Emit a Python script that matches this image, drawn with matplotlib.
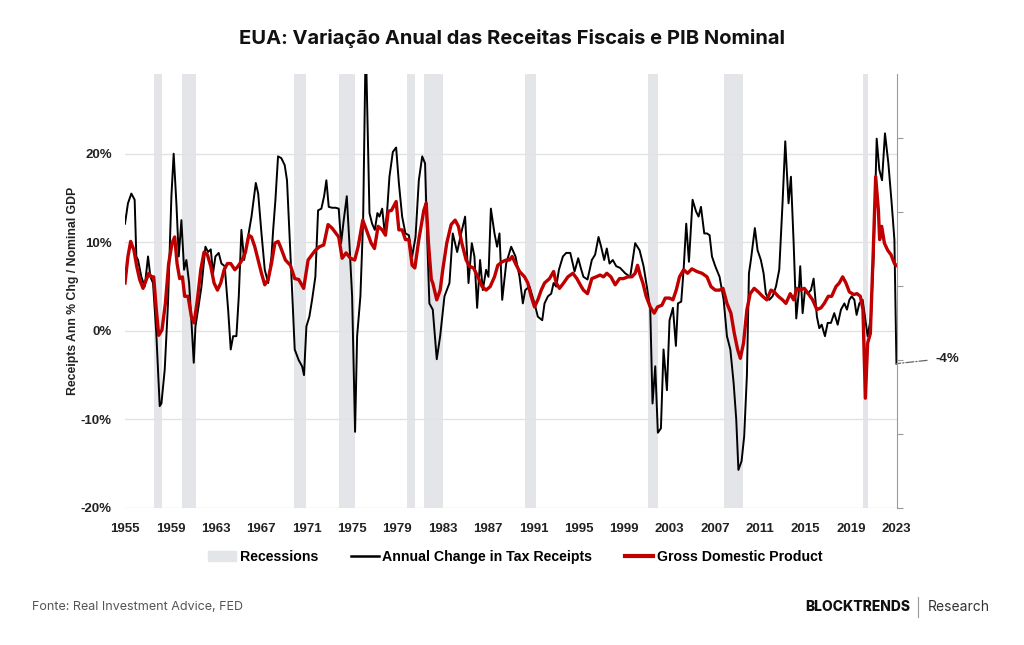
#!/usr/bin/env python3
"""
EUA: variação anual das receitas fiscais vs PIB nominal
"""

import numpy as np
import matplotlib.pyplot as plt
from matplotlib.lines import Line2D
from matplotlib.patches import Patch

# Receitas fiscais - variação anual (%), pares (ano, valor)
receipts = [
    (1955.00, 12.1), (1955.26, 14.4), (1955.56, 15.5), (1955.85, 14.8), (1956.00, 8.4), (1956.15, 8.0),
    (1956.44, 6.1), (1956.74, 5.0), (1957.03, 8.4), (1957.24, 6.1), (1957.47, 5.4), (1957.76, -0.3),
    (1958.06, -8.5), (1958.21, -8.2), (1958.50, -4.4), (1958.79, 3.1), (1959.09, 15.2), (1959.29, 20.0),
    (1959.53, 14.4), (1959.74, 8.4), (1959.97, 12.5), (1960.21, 6.9), (1960.41, 8.0), (1960.65, 5.4),
    (1960.85, 1.2), (1961.06, -3.6), (1961.21, 0.5), (1961.44, 2.4), (1961.74, 5.0), (1962.09, 9.5),
    (1962.32, 8.9), (1962.56, 9.2), (1962.76, 6.5), (1962.97, 8.4), (1963.26, 8.8), (1963.50, 7.6),
    (1963.79, 7.3), (1964.09, 2.4), (1964.32, -2.1), (1964.53, -0.6), (1964.82, -0.6), (1965.03, 3.9),
    (1965.26, 11.4), (1965.50, 8.0), (1965.85, 10.6), (1966.15, 12.9), (1966.53, 16.7), (1966.74, 15.5),
    (1967.03, 11.0), (1967.32, 6.9), (1967.62, 5.4), (1967.91, 8.4), (1968.06, 11.4), (1968.26, 14.8),
    (1968.49, 19.7), (1968.78, 19.5), (1969.08, 18.7), (1969.28, 17.0), (1969.58, 8.8), (1969.78, 3.1),
    (1969.96, -2.1), (1970.31, -3.3), (1970.61, -4.0), (1970.78, -5.0), (1970.99, 0.5), (1971.25, 1.6),
    (1971.49, 3.5), (1971.78, 6.1), (1972.02, 13.6), (1972.31, 13.8), (1972.55, 15.2), (1972.75, 17.0),
    (1972.96, 14.0), (1973.25, 13.9), (1973.55, 13.9), (1973.84, 13.8), (1974.05, 9.9), (1974.28, 12.5),
    (1974.55, 15.2), (1974.78, 9.9), (1975.02, 3.9), (1975.28, -11.4), (1975.46, -0.6), (1975.75, 3.9),
    (1975.99, 12.5), (1976.22, 33.0), (1976.55, 13.3), (1976.78, 12.1), (1977.02, 11.4), (1977.25, 13.3),
    (1977.43, 12.9), (1977.67, 13.8), (1977.90, 11.0), (1978.11, 13.6), (1978.31, 17.4), (1978.61, 20.2),
    (1978.90, 20.7), (1979.14, 16.7), (1979.43, 12.9), (1979.72, 11.0), (1980.02, 10.8), (1980.31, 8.4),
    (1980.61, 10.6), (1980.90, 17.0), (1981.20, 19.7), (1981.45, 18.9), (1981.65, 10.0), (1981.83, 3.1),
    (1982.13, 2.4), (1982.48, -3.2), (1982.78, -0.6), (1983.16, 3.9), (1983.60, 5.4), (1983.89, 11.0),
    (1984.28, 8.9), (1984.63, 11.0), (1984.98, 12.9), (1985.28, 5.4), (1985.57, 9.9), (1985.80, 8.4),
    (1986.04, 2.6), (1986.30, 8.0), (1986.54, 4.6), (1986.83, 6.9), (1987.04, 6.1), (1987.25, 13.8),
    (1987.57, 11.0), (1987.80, 9.5), (1988.01, 11.0), (1988.25, 3.5), (1988.60, 7.6), (1989.04, 9.5),
    (1989.42, 8.4), (1989.78, 6.1), (1990.07, 3.1), (1990.28, 4.6), (1990.66, 5.0), (1991.10, 3.1),
    (1991.39, 1.6), (1991.78, 1.2), (1991.98, 3.1), (1992.28, 3.9), (1992.57, 4.2), (1992.78, 5.4),
    (1993.01, 5.0), (1993.25, 6.9), (1993.60, 8.4), (1993.89, 8.8), (1994.25, 8.8), (1994.63, 6.7),
    (1994.95, 8.2), (1995.20, 7.0), (1995.41, 6.1), (1995.77, 5.8), (1996.15, 8.0), (1996.44, 8.6),
    (1996.74, 10.6), (1996.97, 9.5), (1997.24, 8.0), (1997.47, 9.3), (1997.71, 7.6), (1998.00, 8.0),
    (1998.30, 7.3), (1998.65, 7.1), (1999.09, 6.5), (1999.53, 6.1), (1999.97, 9.9), (2000.36, 9.1),
    (2000.71, 7.3), (2001.00, 5.0), (2001.30, 2.4), (2001.50, -8.2), (2001.74, -4.0), (2001.97, -11.5),
    (2002.24, -11.0), (2002.47, -2.1), (2002.77, -6.7), (2003.00, 1.2), (2003.30, 2.6), (2003.56, -1.7),
    (2003.74, 3.1), (2004.03, 3.3), (2004.24, 6.9), (2004.47, 12.1), (2004.71, 7.8), (2005.03, 14.8),
    (2005.33, 13.5), (2005.56, 12.9), (2005.77, 14.0), (2006.06, 11.0), (2006.30, 11.0), (2006.53, 10.8),
    (2006.74, 8.4), (2007.03, 7.3), (2007.41, 6.1), (2007.77, 3.5), (2008.06, -0.6), (2008.36, -2.1),
    (2008.65, -5.9), (2008.88, -10.0), (2009.07, -15.7), (2009.35, -14.7), (2009.58, -11.9), (2009.82, -5.0),
    (2010.00, 6.5), (2010.17, 8.0), (2010.52, 11.6), (2010.76, 9.1), (2011.05, 8.0), (2011.29, 6.5),
    (2011.49, 4.2), (2011.79, 3.5), (2012.08, 3.9), (2012.38, 5.0), (2012.67, 6.9), (2012.96, 14.4),
    (2013.20, 21.4), (2013.49, 14.4), (2013.70, 17.4), (2013.94, 9.9), (2014.17, 1.4), (2014.38, 4.2),
    (2014.52, 7.3), (2014.73, 2.0), (2014.94, 4.6), (2015.17, 4.2), (2015.46, 4.6), (2015.70, 5.9),
    (2015.99, 1.6), (2016.20, 0.3), (2016.41, 0.7), (2016.70, -0.6), (2016.94, 0.9), (2017.23, 0.9),
    (2017.52, 2.0), (2017.82, 0.7), (2018.11, 2.4), (2018.41, 3.1), (2018.64, 2.4), (2018.85, 3.5),
    (2019.05, 3.9), (2019.29, 3.5), (2019.49, 1.8), (2019.73, 3.1), (2020.02, 3.5), (2020.46, -0.6),
    (2020.76, 1.6), (2020.99, 8.4), (2021.26, 21.7), (2021.49, 18.2), (2021.73, 17.0), (2021.99, 22.3),
    (2022.29, 18.9), (2022.58, 14.4), (2022.82, 10.3), (2023.00, -3.7),
]

# PIB nominal - variação anual (%)
gdp = [
    (1955.00, 5.4), (1955.26, 8.4), (1955.50, 10.1), (1955.79, 9.1), (1956.03, 7.3), (1956.29, 5.8),
    (1956.59, 4.8), (1956.88, 5.8), (1957.09, 6.5), (1957.32, 6.1), (1957.53, 6.1), (1957.76, 2.4),
    (1957.97, -0.5), (1958.26, 0.1), (1958.56, 3.1), (1958.85, 7.6), (1959.15, 9.9), (1959.38, 10.6),
    (1959.59, 7.6), (1959.82, 5.9), (1960.06, 6.1), (1960.26, 3.9), (1960.56, 3.9), (1960.85, 1.6),
    (1961.09, 0.9), (1961.38, 3.5), (1961.68, 6.9), (1961.97, 8.9), (1962.26, 8.6), (1962.56, 7.3),
    (1962.85, 5.4), (1963.15, 4.6), (1963.44, 5.4), (1963.74, 6.9), (1964.03, 7.6), (1964.32, 7.6),
    (1964.68, 6.9), (1964.97, 7.3), (1965.32, 8.0), (1965.62, 8.9), (1965.91, 10.8), (1966.15, 10.6),
    (1966.44, 9.5), (1966.74, 8.0), (1967.03, 6.5), (1967.32, 5.2), (1967.62, 5.8), (1967.91, 7.6),
    (1968.21, 9.9), (1968.50, 10.1), (1968.70, 9.5), (1969.14, 8.0), (1969.58, 7.4), (1969.96, 5.9),
    (1970.31, 5.8), (1970.75, 4.8), (1971.14, 8.0), (1971.49, 8.6), (1971.78, 9.1), (1972.14, 9.5),
    (1972.52, 9.7), (1972.90, 12.0), (1973.25, 11.6), (1973.61, 11.0), (1973.84, 10.6), (1974.14, 8.2),
    (1974.49, 8.8), (1974.87, 8.2), (1975.25, 8.0), (1975.55, 9.5), (1975.96, 12.5), (1976.28, 11.4),
    (1976.70, 9.9), (1976.99, 9.3), (1977.31, 11.8), (1977.67, 11.4), (1977.96, 10.8), (1978.20, 13.5),
    (1978.49, 13.6), (1978.90, 14.6), (1979.14, 11.4), (1979.43, 11.4), (1979.72, 10.3), (1980.02, 10.3),
    (1980.31, 7.4), (1980.55, 7.1), (1980.90, 10.3), (1981.34, 13.6), (1981.55, 14.4), (1981.75, 9.9),
    (1982.00, 5.8), (1982.13, 5.4), (1982.48, 3.5), (1982.78, 4.6), (1983.01, 6.9), (1983.36, 9.9),
    (1983.75, 12.0), (1984.10, 12.5), (1984.39, 11.8), (1984.69, 9.9), (1985.07, 8.0), (1985.36, 7.3),
    (1985.72, 7.1), (1986.10, 6.1), (1986.48, 5.0), (1986.83, 4.6), (1987.19, 5.0), (1987.57, 6.1),
    (1987.86, 7.4), (1988.25, 7.8), (1988.60, 8.0), (1988.89, 8.0), (1989.13, 8.4), (1989.42, 7.6),
    (1989.78, 6.7), (1990.22, 6.1), (1990.51, 5.4), (1990.80, 3.9), (1991.10, 2.7), (1991.39, 3.5),
    (1991.69, 4.6), (1991.98, 5.4), (1992.42, 5.9), (1992.78, 6.7), (1993.01, 5.4), (1993.30, 4.8),
    (1993.66, 5.4), (1994.04, 6.1), (1994.48, 6.5), (1994.83, 5.9), (1995.22, 5.0), (1995.41, 4.6),
    (1995.77, 4.2), (1996.15, 5.9), (1996.53, 6.1), (1996.88, 6.3), (1997.18, 6.1), (1997.47, 6.5),
    (1997.83, 6.1), (1998.21, 5.2), (1998.59, 5.9), (1998.94, 5.9), (1999.33, 6.1), (1999.68, 6.1),
    (1999.97, 6.5), (2000.18, 7.4), (2000.41, 6.3), (2000.65, 5.4), (2000.94, 3.9), (2001.30, 2.7),
    (2001.65, 2.0), (2001.94, 2.7), (2002.33, 2.9), (2002.62, 3.7), (2003.00, 3.7), (2003.30, 3.5),
    (2003.59, 4.6), (2003.88, 6.1), (2004.24, 6.9), (2004.59, 6.5), (2004.97, 7.0), (2005.41, 6.7),
    (2005.86, 6.5), (2006.30, 6.1), (2006.65, 5.0), (2007.03, 4.6), (2007.41, 4.6), (2007.71, 4.8),
    (2008.06, 3.1), (2008.41, 2.0), (2008.71, -0.3), (2009.00, -2.1), (2009.24, -3.1), (2009.52, -1.4),
    (2009.82, 2.4), (2010.11, 4.2), (2010.46, 4.8), (2010.82, 4.4), (2011.20, 3.9), (2011.58, 3.5),
    (2011.94, 4.6), (2012.23, 4.4), (2012.58, 3.9), (2012.96, 3.5), (2013.26, 3.1), (2013.64, 4.2),
    (2013.94, 3.5), (2014.23, 4.8), (2014.52, 4.6), (2014.88, 4.8), (2015.23, 4.2), (2015.61, 3.5),
    (2015.99, 2.4), (2016.35, 2.6), (2016.64, 3.1), (2016.99, 3.9), (2017.29, 3.9), (2017.67, 5.0),
    (2017.96, 5.4), (2018.26, 6.1), (2018.55, 5.4), (2018.85, 4.4), (2019.23, 4.1), (2019.52, 4.2),
    (2019.82, 3.9), (2020.05, 2.4), (2020.26, -7.6), (2020.46, -1.4), (2020.70, -0.3), (2020.94, 8.4),
    (2021.17, 17.4), (2021.41, 13.6), (2021.52, 10.3), (2021.70, 11.8), (2021.94, 9.9), (2022.23, 9.1),
    (2022.52, 8.6), (2022.82, 7.6), (2023.00, 7.4),
]

# Recessões (início, fim)
recession_start = [1957.56, 1960.03, 1969.88, 1973.84, 1979.87, 1981.34, 1990.27, 2001.09, 2007.76, 2020.08]
recession_end = [1958.24, 1961.23, 1970.99, 1975.26, 1980.55, 1983.01, 1991.24, 2001.94, 2009.44, 2020.52]

y_ticks = [-20, -10, 0, 10, 20]
x_ticks = list(range(1955, 2024, 4))

title = 'EUA: Variação Anual das Receitas Fiscais e PIB Nominal'
source = 'Fonte: Real Investment Advice, FED'

RED = '#c00000'
REC_GRAY = '#e4e5e8'

plt.rcParams['font.family'] = ['Liberation Sans Narrow', 'Liberation Sans', 'DejaVu Sans']

rx, ry = np.array(receipts).T
gx, gy = np.array(gdp).T

fig = plt.figure(figsize=(10.24, 6.45), dpi=100)
ax = fig.add_axes([125 / 1024, 137 / 645, 772 / 1024, 434 / 645])

# Barras de recessão
for s, e in zip(recession_start, recession_end):
    ax.axvspan(s, e, color=REC_GRAY, lw=0, zorder=0)

ax.plot(rx, ry, color='black', lw=1.4, zorder=3)
ax.plot(gx, gy, color=RED, lw=2.4, zorder=4)

ax.set_xlim(1955, 2023.05)
ax.set_ylim(-20, 29)
ax.set_yticks(y_ticks)
ax.set_yticklabels([f'{v}%' for v in y_ticks], fontweight='bold', fontsize=9.5, color='#222222')
ax.set_xticks(x_ticks)
ax.set_xticklabels([str(v) for v in x_ticks], fontweight='bold', fontsize=9.5, color='#222222')
ax.tick_params(axis='y', length=0, pad=9.5)
ax.tick_params(axis='x', length=0, pad=11)
ax.yaxis.grid(True, color='#e2e2e2', lw=1)
ax.set_axisbelow(True)
for sp in ax.spines.values():
    sp.set_visible(False)

ax.set_ylabel('Receipts Ann % Chg / Nominal GDP', fontweight='bold', fontsize=8.8, color='#222222')
ax.yaxis.set_label_coords(-0.059, 0.5)

# Eixo direito (sem rótulos)
ax2 = ax.twinx()
ax2.set_ylim(-30, 28.65)
ax2.set_yticks(range(-30, 21, 10))
ax2.tick_params(axis='y', length=4, color='#9a9a9a', labelright=False)
for name, sp in ax2.spines.items():
    sp.set_visible(name == 'right')
ax2.spines['right'].set_color('#9a9a9a')

# Anotação do último valor
ax.annotate(f'{round(ry[-1])}%', xy=(rx[-1], ry[-1]), xytext=(28, 3), textcoords='offset points',
            ha='left', va='center', fontweight='bold', fontsize=9.5, color='#222222',
            annotation_clip=False,
            arrowprops=dict(arrowstyle='-', linestyle='-.', color='#666666', lw=0.9,
                            relpos=(0, 0.5), shrinkA=4, shrinkB=0))

# Legenda
handles = [Patch(color=REC_GRAY), Line2D([], [], color='black', lw=1.8), Line2D([], [], color=RED, lw=3)]
labels = ['Recessions', 'Annual Change in Tax Receipts', 'Gross Domestic Product']
fig.legend(handles, labels, loc='center', bbox_to_anchor=(515 / 1024, 1 - 557 / 645), ncol=3,
           frameon=False, prop=dict(weight='bold', size=10.2), handlelength=2.0,
           handletextpad=0.25, columnspacing=2.3)

# Título e rodapé
fig.text(0.5, 1 - 38 / 645, title, ha='center', va='center', family='Inter', fontweight='bold',
         fontsize=14.5, color='#111111')
fig.text(32 / 1024, 1 - 607 / 645, source, ha='left', va='center', family='Inter', fontsize=9,
         color='#555555')
fig.text(910 / 1024, 1 - 607 / 645, 'BLOCKTRENDS', ha='right', va='center', family='Inter',
         fontweight='heavy', fontsize=10, color='#111111')
fig.add_artist(Line2D([918 / 1024, 918 / 1024], [1 - 597 / 645, 1 - 617 / 645], color='#999999', lw=0.8))
fig.text(928 / 1024, 1 - 607 / 645, 'Research', ha='left', va='center', family='Inter', fontsize=10,
         color='#333333')

fig.savefig('out.png', dpi=100)
